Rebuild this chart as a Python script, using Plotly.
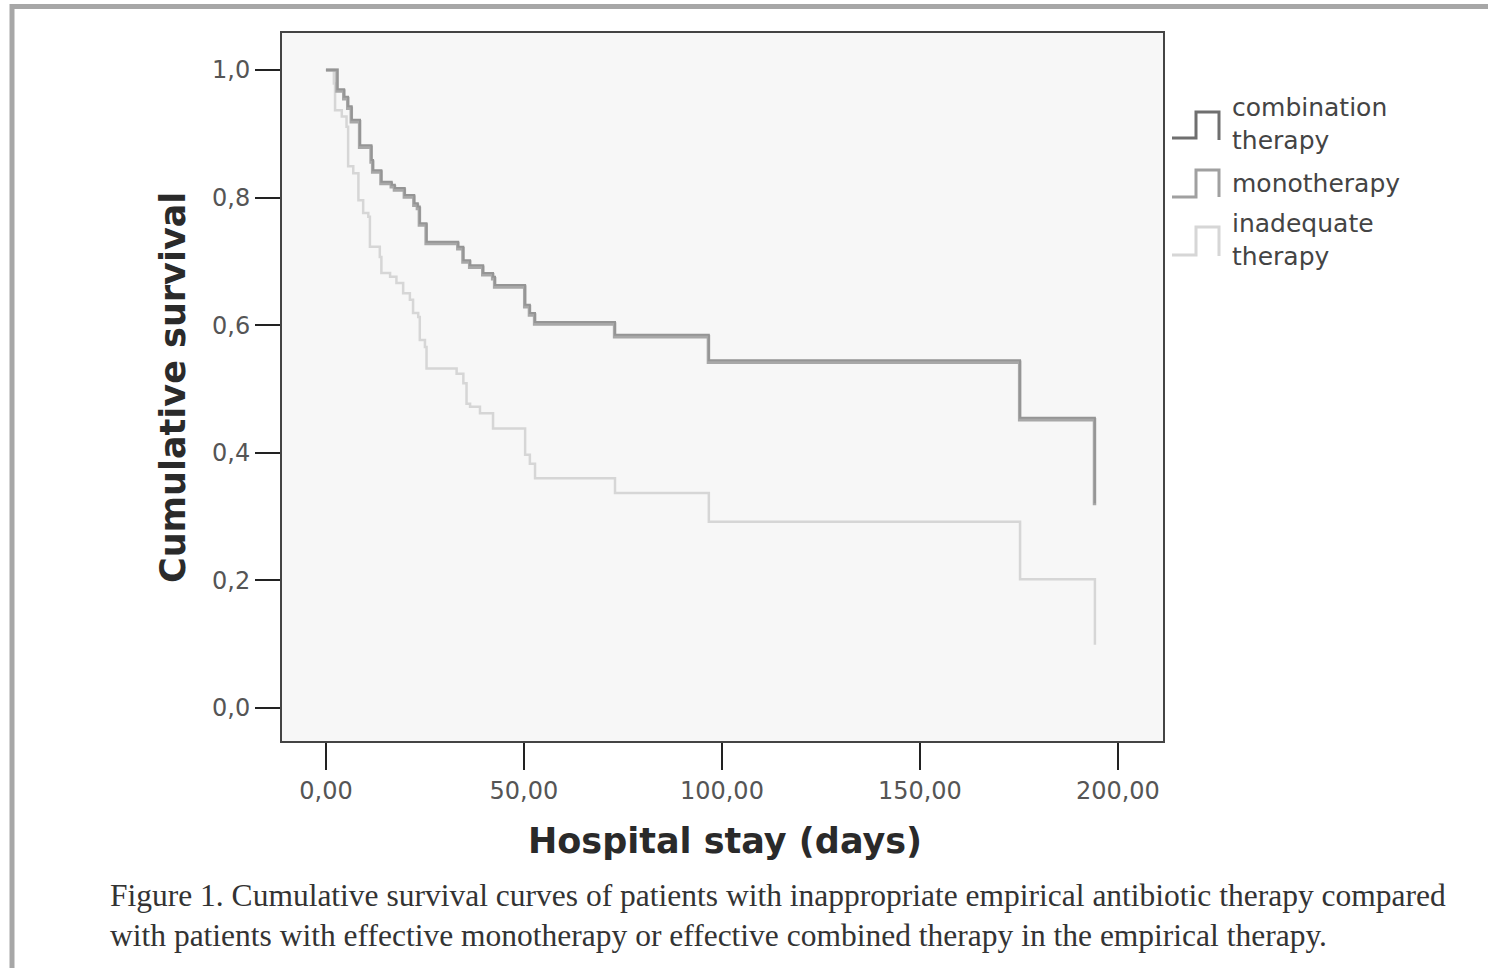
import plotly.graph_objects as go

# ---- data ----
combo_days = [0, 2.9, 4.6, 5.6, 6.5, 8.6, 11.5, 11.9, 14.0, 16.6, 17.4, 19.9, 22.3, 23.2, 23.7, 25.4,
              33.4, 34.7, 36.4, 39.7, 42.2, 42.7, 50.3, 51.5, 52.8, 73.0, 96.7, 175.3, 194.2]
combo_surv = [1.0, 0.970, 0.958, 0.943, 0.922, 0.882, 0.859, 0.843, 0.825, 0.820, 0.815, 0.804, 0.791, 0.786, 0.760, 0.731,
              0.723, 0.702, 0.694, 0.682, 0.676, 0.663, 0.632, 0.619, 0.605, 0.585, 0.545, 0.455, 0.321]

mono_days = [0, 2.8, 4.5, 5.5, 6.4, 8.5, 11.4, 11.8, 13.9, 16.5, 17.3, 19.8, 22.2, 23.1, 23.6, 25.3,
             33.3, 34.6, 36.3, 39.6, 42.1, 42.6, 50.2, 51.4, 52.7, 72.9, 96.6, 175.2, 194.1]
mono_surv = [1.0, 0.967, 0.955, 0.940, 0.919, 0.879, 0.856, 0.840, 0.822, 0.817, 0.812, 0.801, 0.788, 0.783, 0.757, 0.728,
             0.720, 0.699, 0.691, 0.679, 0.673, 0.660, 0.629, 0.616, 0.602, 0.582, 0.542, 0.452, 0.318]

inad_days = [0, 2.0, 2.3, 4.0, 5.2, 5.6, 6.9, 8.2, 9.4, 10.7, 11.1, 13.6, 14.0, 16.2, 17.8, 19.5, 21.2,
             22.0, 23.3, 23.7, 25.0, 25.4, 33.0, 34.7, 35.5, 36.4, 38.9, 42.2, 50.3, 51.5, 52.8,
             73.0, 96.7, 175.3, 194.2]
inad_surv = [1.0, 0.979, 0.937, 0.927, 0.911, 0.849, 0.838, 0.796, 0.776, 0.770, 0.723, 0.707, 0.682, 0.676, 0.666, 0.650, 0.640,
             0.619, 0.613, 0.577, 0.566, 0.532, 0.524, 0.509, 0.477, 0.472, 0.462, 0.438, 0.397, 0.383, 0.360,
             0.337, 0.292, 0.202, 0.099]

series_names = ["combination<br>therapy", "monotherapy", "inadequate<br>therapy"]
x_ticks = [0, 50, 100, 150, 200]
y_ticks = [0.0, 0.2, 0.4, 0.6, 0.8, 1.0]

caption_1 = ("Figure 1. Cumulative survival curves of patients with inappropriate empirical "
             "antibiotic therapy compared")
caption_2 = "with patients with effective monotherapy or effective combined therapy in the empirical therapy."

# ---- layout geometry (page pixels) ----
W, H = 1488, 968
L, R, T, B = 282, 1163, 33, 741
pw, ph = R - L, B - T


def px(x):
    return (x - L) / pw


def py(y):
    return 1 - (y - T) / ph


fig = go.Figure()
fig.add_trace(go.Scatter(x=inad_days, y=inad_surv, mode="lines", line_shape="hv",
                         line=dict(color="#d6d6d6", width=2.5), name="inadequate therapy", showlegend=False))
fig.add_trace(go.Scatter(x=mono_days, y=mono_surv, mode="lines", line_shape="hv",
                         line=dict(color="#a8a8a8", width=3.5), name="monotherapy", showlegend=False))
fig.add_trace(go.Scatter(x=combo_days, y=combo_surv, mode="lines", line_shape="hv",
                         line=dict(color="#959595", width=2), name="combination therapy", showlegend=False))

sans = "DejaVu Sans, Arial, sans-serif"
serif = "Liberation Serif, Times New Roman, serif"

shapes = []
# outer frame
shapes.append(dict(type="rect", xref="paper", yref="paper",
                   x0=px(12), x1=px(1520), y0=py(1000), y1=py(6.5),
                   line=dict(color="#a7a7a7", width=5), fillcolor="rgba(0,0,0,0)", layer="below"))

# custom legend with step glyphs
leg_colors = ["#6f6f6f", "#a0a0a0", "#d6d6d6"]
leg_geom = [(138, 112, 140), (197, 170, 197), (255, 227, 256)]
for (yb, yt, ye), c in zip(leg_geom, leg_colors):
    path = (f"M {px(1172)},{py(yb)} L {px(1196)},{py(yb)} L {px(1196)},{py(yt)} "
            f"L {px(1219)},{py(yt)} L {px(1219)},{py(ye)}")
    shapes.append(dict(type="path", xref="paper", yref="paper", path=path,
                       line=dict(color=c, width=3)))

annotations = [
    dict(text="combination<br>therapy", x=px(1230), y=py(124), xanchor="left", yanchor="middle"),
    dict(text="monotherapy", x=px(1230), y=py(184), xanchor="left", yanchor="middle"),
    dict(text="inadequate<br>therapy", x=px(1230), y=py(240), xanchor="left", yanchor="middle"),
]
for a in annotations:
    a.update(xref="paper", yref="paper", showarrow=False, align="left",
             font=dict(family=sans, size=25, color="#444444"))

annotations += [
    dict(text="<b>Cumulative survival</b>", x=px(173), y=py(388), xref="paper", yref="paper",
         showarrow=False, textangle=-90, xanchor="center", yanchor="middle",
         font=dict(family=sans, size=35, color="#2a2a2a")),
    dict(text="<b>Hospital stay (days)</b>", x=px(725), y=py(841), xref="paper", yref="paper",
         showarrow=False, xanchor="center", yanchor="middle",
         font=dict(family=sans, size=35, color="#2a2a2a")),
    dict(text=caption_1, x=px(108), y=py(895), xref="paper", yref="paper",
         showarrow=False, xanchor="left", yanchor="middle",
         font=dict(family=serif, size=31.5, color="#333333")),
    dict(text=caption_2, x=px(108), y=py(935), xref="paper", yref="paper",
         showarrow=False, xanchor="left", yanchor="middle",
         font=dict(family=serif, size=31.5, color="#333333")),
]

x0v = -11.1
x1v = 211.4
y0v = -0.0517
y1v = 1.058

fig.update_layout(
    width=W, height=H,
    margin=dict(l=L, r=W - R, t=T, b=H - B, pad=0),
    paper_bgcolor="white", plot_bgcolor="#f7f7f7",
    separators=", ",
    showlegend=False,
    shapes=shapes, annotations=annotations,
    xaxis=dict(range=[x0v, x1v], tickvals=x_ticks, tickformat=".2f", ticks="outside",
               ticklen=27, tickwidth=2, tickcolor="#222222", showgrid=False, zeroline=False,
               showline=True, linecolor="#444444", linewidth=2, mirror=True,
               tickfont=dict(family=sans, size=24, color="#555555")),
    yaxis=dict(range=[y0v, y1v], tickvals=y_ticks, tickformat=".1f", ticks="outside",
               ticklen=25, tickwidth=2, tickcolor="#222222", showgrid=False, zeroline=False,
               showline=True, linecolor="#444444", linewidth=2, mirror=True,
               tickfont=dict(family=sans, size=24, color="#555555")),
)

fig.write_html("out.html")
